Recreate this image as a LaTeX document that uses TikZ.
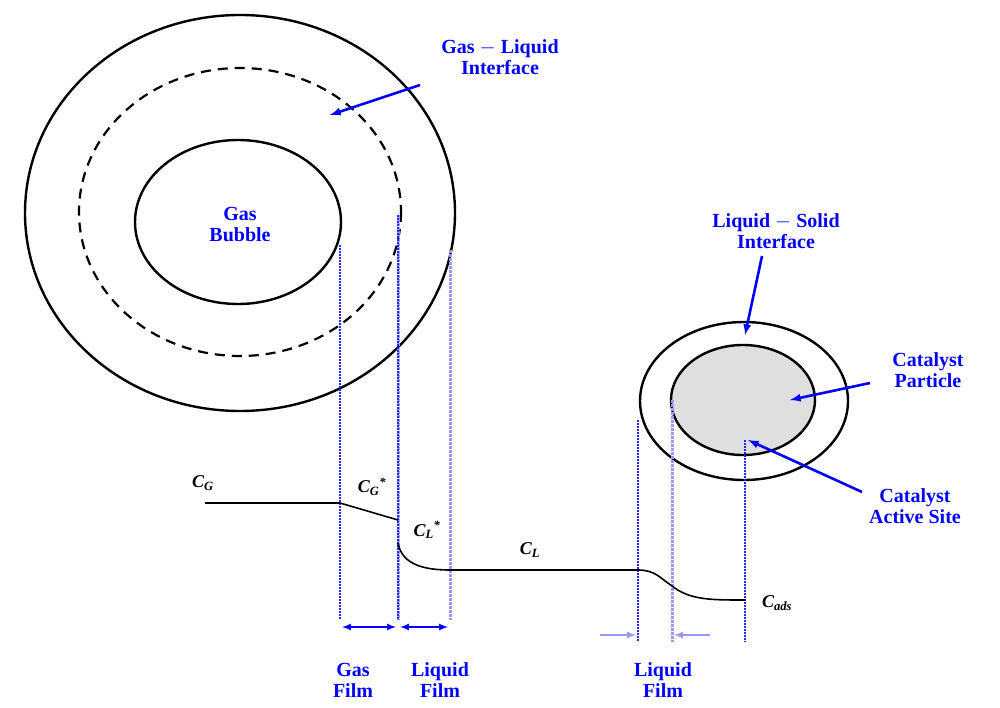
\documentclass[tikz,border=0pt]{standalone}
\usepackage{fontspec}
\setmainfont{Liberation Serif}
\begin{document}
\begin{tikzpicture}[x=1pt,y=-1pt,
 lbl/.style={text=blue,font=\fontsize{20}{21}\selectfont\bfseries,align=center},
 ci/.style={font=\fontsize{18}{20}\selectfont\bfseries\itshape},
 vl/.style={blue!85,densely dotted,line width=2pt},
 vll/.style={blue!40,densely dotted,line width=3pt},
 arr/.style={blue,line width=2.6pt,-latex},
 curve/.style={black,line width=1.6pt}]
\useasboundingbox (0,0) rectangle (1000,708);
% big bubble
\draw[line width=2.4pt] (240,213) ellipse [x radius=215,y radius=198];
\draw[line width=2.2pt,dash pattern=on 10pt off 7pt] (240,212) ellipse [x radius=161,y radius=144];
\draw[line width=2.4pt] (238,222) ellipse [x radius=103,y radius=82];
% catalyst
\draw[line width=2.4pt] (744,401) ellipse [x radius=104,y radius=79];
\draw[line width=2.4pt,fill=gray!25] (743,400) ellipse [x radius=72,y radius=55];
% verticals
\coordinate (a1) at (340,245); \coordinate (a2) at (340,620);
\coordinate (b1) at (398,215); \coordinate (b2) at (398,620);
\coordinate (c1) at (450,250); \coordinate (c2) at (450,620);
\coordinate (d1) at (638,420); \coordinate (d2) at (638,642);
\coordinate (e1) at (672,400); \coordinate (e2) at (672,642);
\coordinate (f1) at (745,440); \coordinate (f2) at (745,642);
\draw[vl] (a1)--(a2); \draw[vll] (b1)--(b2); \draw[vl] (b1)--(b2);
\draw[vll] (c1)--(c2); \draw[vl] (d1)--(d2); \draw[vll] (e1)--(e2); \draw[vl] (f1)--(f2);
% concentration profile
\draw[curve] (205,503) -- (340,503) -- (398,520);
\draw[curve] (398,543) .. controls (402,565) and (425,570) .. (450,570) -- (638,570)
  .. controls (655,570) and (660,578) .. (672,586) .. controls (690,600) and (710,600) .. (745,600);
\node[ci] at (203,483) {C\textsubscript{G}};
\node[ci] at (372,487) {C\textsubscript{G}\textsuperscript{*}};
\node[ci] at (427,530) {C\textsubscript{L}\textsuperscript{*}};
\node[ci] at (530,550) {C\textsubscript{L}};
\node[ci] at (777,603) {C\textsubscript{ads}};
% film arrows
\draw[blue,line width=2pt,latex-latex] (342,627) -- (396,627);
\draw[blue,line width=2pt,latex-latex] (400,627) -- (448,627);
\draw[blue!40,line width=2pt,-latex] (600,635) -- (636,635);
\draw[blue!40,line width=2pt,-latex] (710,635) -- (674,635);
% labels
\node[lbl] (gf) at (353,680) {Gas\\Film};
\node[lbl] (lf) at (440,680) {Liquid\\Film};
\node[lbl] (lf2) at (663,680) {Liquid\\Film};
\node[lbl] (gb) at (240,225) {Gas\\Bubble};
\node[lbl] (gli) at (500,57) {Gas $-$ Liquid\\Interface};
\node[lbl] (lsi) at (776,231) {Liquid $-$ Solid\\Interface};
\node[lbl] (cp) at (928,370) {Catalyst\\Particle};
\node[lbl] (cas) at (915,506) {Catalyst\\Active Site};
\coordinate (t1) at (330,115); \coordinate (t2) at (745,335);
\coordinate (t3) at (790,400); \coordinate (t4) at (748,440);
\draw[arr] (420,85) -- (t1);
\draw[arr] (762,256) -- (t2);
\draw[arr] (870,383) -- (t3);
\draw[arr] (862,492) -- (t4);
\end{tikzpicture}
\end{document}
